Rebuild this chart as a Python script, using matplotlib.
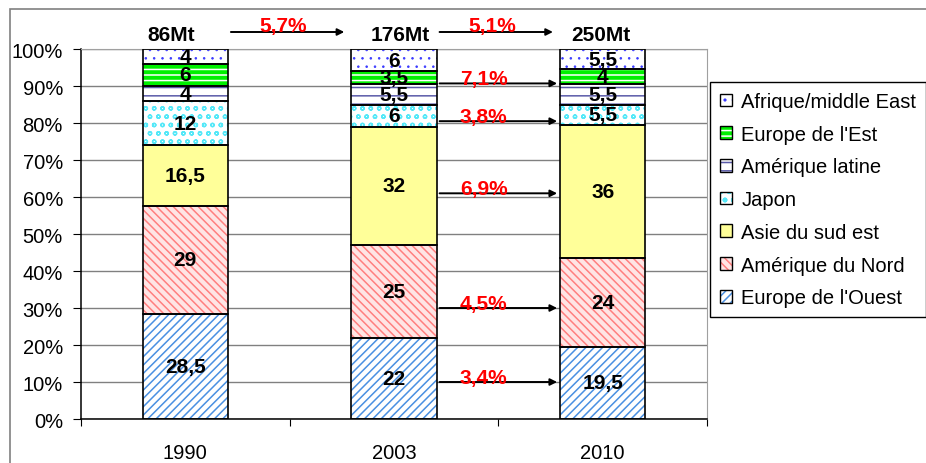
import matplotlib as mpl
import matplotlib.pyplot as plt
import numpy as np
from matplotlib.patches import Patch, Rectangle
from matplotlib.legend_handler import HandlerTuple

plt.rcParams['font.family'] = ['Liberation Sans', 'DejaVu Sans']
plt.rcParams['hatch.linewidth'] = 1.1

# ---- data (share of production, %) ----
years = ['1990', '2003', '2010']
tonnages = ['86Mt', '176Mt', '250Mt']

regions = ["Europe de l'Ouest", "Amérique du Nord", "Asie du sud est", "Japon",
           "Amérique latine", "Europe de l'Est", "Afrique/middle East"]
europe_ouest = [28.5, 22, 19.5]
amerique_nord = [29, 25, 24]
asie_sud_est = [16.5, 32, 36]
japon = [12, 6, 5.5]
amerique_latine = [4, 5.5, 5.5]
europe_est = [6, 3.5, 4]
afrique_me = [4, 6, 5.5]
shares = [europe_ouest, amerique_nord, asie_sud_est, japon,
          amerique_latine, europe_est, afrique_me]

# annual growth rates
growth_total = ['5,7%', '5,1%']
growth_2003_2010 = ['3,4%', '4,5%', '6,9%', '3,8%', '7,1%']

# ---- layout / styles ----
arrow_y = [10, 30, 61, 80.5, 90.7]
tonnage_dx = [-0.07, 0.03, -0.01]
# (face, hatch, hatch colour, hatch linewidth)
styles = [
    ('white', '////', '#4A90E2', 1.1),
    ('#FFE4E4', '\\\\\\\\', '#FF7F7F', 1.1),
    ('#FFFF99', None, '#FFFF99', 1.1),
    ('white', 'oo', '#55E8F8', 1.0),
    ('white', '--', '#5A5AA8', 1.1),
    ('#00F000', '---', 'white', 1.1),
    ('white', '..', '#3A3AFF', 0.6),
]

fig = plt.figure(figsize=(9.26, 4.64), dpi=100)
ax = fig.add_axes([0.0875, 0.0948, 0.676, 0.7974])

x = np.arange(len(years)) + 0.5
width = 0.41
bottom = np.zeros(len(years))
handles = []
for name, vals, (face, hatch, hcol, hlw) in zip(regions, shares, styles):
    vals = np.array(vals, dtype=float)
    with mpl.rc_context({'hatch.linewidth': hlw}):
        ax.bar(x, vals, width, bottom=bottom, color=face, edgecolor=hcol,
               hatch=hatch, linewidth=0, zorder=2)
        swatch = Patch(facecolor=face, edgecolor=hcol, hatch=hatch, linewidth=0)
    ax.bar(x, vals, width, bottom=bottom, fill=False, edgecolor='black',
           linewidth=1.2, zorder=3)
    for xi, b, v in zip(x, bottom, vals):
        ax.text(xi, b + v / 2, f'{v:g}'.replace('.', ','), ha='center', va='center',
                fontsize=15, fontweight='bold', zorder=4)
    handles.append((swatch, Patch(fill=False, edgecolor='black', linewidth=1)))
    bottom += vals

# ============= axes =============
ax.set_xlim(0, 3)
ax.set_ylim(0, 100)
ax.set_yticks(range(0, 101, 10))
ax.set_yticklabels([f'{t}%' for t in range(0, 101, 10)], fontsize=14.5)
ax.tick_params(axis='y', direction='out', length=6, pad=7)
ax.set_xticks([0, 1, 2, 3])
ax.set_xticklabels([])
ax.set_xticks(x, minor=True)
ax.set_xticklabels(years, minor=True, fontsize=14.5)
ax.tick_params(axis='x', which='major', direction='out', length=5)
ax.tick_params(axis='x', which='minor', length=0, pad=17)
ax.yaxis.grid(True, color='#808080', linewidth=1)
ax.set_axisbelow(True)
for side in ['top', 'right']:
    ax.spines[side].set_color('#a0a0a0')
for side in ['left', 'bottom']:
    ax.spines[side].set_linewidth(1.1)

# ============= tonnages and growth arrows =============
arrow_kw = dict(arrowstyle='-|>', color='black', lw=1.4, mutation_scale=10)
for xi, dx, t in zip(x, tonnage_dx, tonnages):
    ax.text(xi + dx, 103.8, t, ha='center', va='center', fontsize=15,
            fontweight='bold', clip_on=False)
for i, g in enumerate(growth_total):
    ax.annotate('', xy=(x[i + 1] - width / 2 - 0.02, 104.6),
                xytext=(x[i] + width / 2, 104.6), arrowprops=arrow_kw,
                annotation_clip=False)
    ax.text((x[i] + x[i + 1]) / 2 - 0.03, 106.3, g, color='red', ha='center',
            va='center', fontsize=15, fontweight='bold', clip_on=False)

for y, g in zip(arrow_y, growth_2003_2010):
    ax.annotate('', xy=(x[2] - width / 2, y), xytext=(x[1] + width / 2, y),
                arrowprops=arrow_kw, zorder=5)
    ax.text((x[1] + x[2]) / 2 - 0.07, y + 1.3, g, color='red', ha='center',
            va='center', fontsize=15, fontweight='bold', zorder=6)

# ============= legend =============
leg = fig.legend(handles[::-1], regions[::-1], loc='upper left',
                 bbox_to_anchor=(710 / 926, 1 - 83 / 464), borderaxespad=0,
                 handler_map={tuple: HandlerTuple(ndivide=1)},
                 fontsize=14.5, handlelength=0.6, handleheight=0.6,
                 handletextpad=0.45, labelspacing=0.68, borderpad=0.5,
                 fancybox=False, framealpha=1, edgecolor='black')
leg.get_frame().set_linewidth(1)

# chart border
fig.patches.append(Rectangle((10 / 926, -0.05), 1.1, 1.05 - 10 / 464,
                             transform=fig.transFigure, fill=False,
                             edgecolor='#808080', linewidth=1.2))

plt.savefig('out.png', dpi=100)
